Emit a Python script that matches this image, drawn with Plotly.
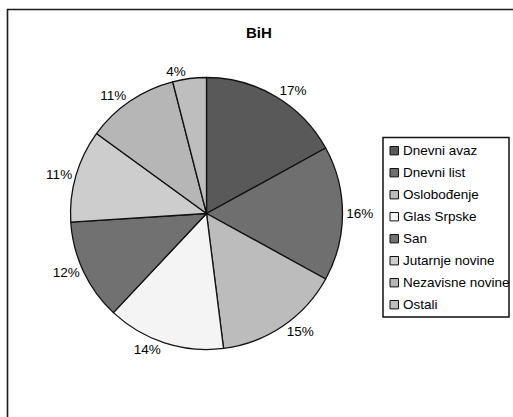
import plotly.graph_objects as go

W, H = 513, 417

categories = ["Dnevni avaz", "Dnevni list", "Oslobođenje", "Glas Srpske",
              "San", "Jutarnje novine", "Nezavisne novine", "Ostali"]
shares = [17, 16, 15, 14, 12, 11, 11, 4]
colors = ["#595959", "#6f6f6f", "#bcbcbc", "#f4f4f4",
          "#717171", "#cdcdcd", "#b6b6b6", "#bebebe"]
title_text = "BiH"

FONT = "Liberation Sans, Arial, sans-serif"

def px(x):
    return x / W

def py(y):
    return 1 - y / H

cx, cy, r = 206.5, 213.5, 136

fig = go.Figure()
fig.add_trace(go.Pie(
    labels=categories,
    values=shares,
    sort=False,
    direction="clockwise",
    rotation=0,
    marker=dict(colors=colors, line=dict(color="#111111", width=1.3)),
    texttemplate="%{value}%",
    textposition="outside",
    textfont=dict(family=FONT, size=13.5, color="#000000"),
    domain=dict(x=[px(cx - r), px(cx + r)], y=[py(cy + r), py(cy - r)]),
    showlegend=False,
    hoverinfo="label+percent",
))

shapes = []
annotations = []

# outer frame (only left and top edges visible)
shapes.append(dict(type="path", xref="paper", yref="paper",
                   path=f"M {px(7.5)} {py(417)} L {px(7.5)} {py(9.5)} L {px(513)} {py(9.5)}",
                   line=dict(color="#1a1a1a", width=1.6)))

# legend box
lx0, ly0, lx1, ly1 = 383, 137.5, 509, 317
shapes.append(dict(type="rect", xref="paper", yref="paper",
                   x0=px(lx0), x1=px(lx1), y0=py(ly1), y1=py(ly0),
                   line=dict(color="#111111", width=1.5), fillcolor="rgba(0,0,0,0)"))

step = 22
first_y = 150.7
for i, (name, col) in enumerate(zip(categories, colors)):
    yc = first_y + i * step
    shapes.append(dict(type="rect", xref="paper", yref="paper",
                       x0=px(390), x1=px(398.5), y0=py(yc + 4.2), y1=py(yc - 4.2),
                       line=dict(color="#111111", width=1), fillcolor=col))
    annotations.append(dict(text=name, xref="paper", yref="paper",
                            x=px(400.5), y=py(yc), xanchor="left", yanchor="middle",
                            showarrow=False,
                            font=dict(family=FONT, size=13.5, color="#000000")))

annotations.append(dict(text=f"<b>{title_text}</b>", xref="paper", yref="paper",
                        x=px(259), y=py(33), xanchor="center", yanchor="middle",
                        showarrow=False,
                        font=dict(family=FONT, size=15, color="#000000")))

fig.update_layout(
    width=W, height=H,
    margin=dict(l=0, r=0, t=0, b=0),
    paper_bgcolor="white",
    plot_bgcolor="white",
    shapes=shapes,
    annotations=annotations,
    showlegend=False,
)

fig.write_html("out.html")
